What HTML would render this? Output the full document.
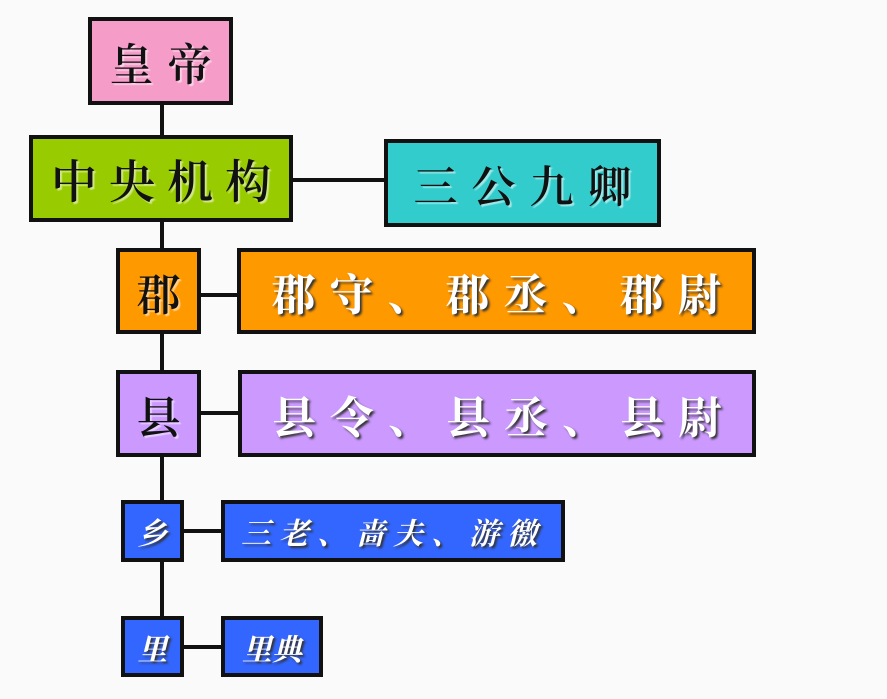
<!DOCTYPE html>
<html><head><meta charset="utf-8"><style>
body{margin:0;width:887px;height:699px;background:#fafafa;position:relative;overflow:hidden;font-family:"Liberation Serif","Noto Serif CJK SC",serif;}
.b{position:absolute;box-sizing:border-box;border:4px solid #111;display:flex;align-items:center;justify-content:center;font-weight:bold;white-space:nowrap;}
.d{color:#111;text-shadow:2px 2px 1px #fff8;font-weight:600;}
.w{color:#fff;text-shadow:2px 2px 2px #333;}
.l{position:absolute;background:#111;}
</style></head><body>
<div class="l" style="left:160px;top:100px;width:4px;height:540px"></div>
<div class="l" style="left:290px;top:178px;width:96px;height:4px"></div>
<div class="l" style="left:198px;top:293px;width:40px;height:4px"></div>
<div class="l" style="left:198px;top:411px;width:40px;height:4px"></div>
<div class="l" style="left:181px;top:529px;width:40px;height:4px"></div>
<div class="l" style="left:181px;top:645px;width:40px;height:4px"></div>

<div class="b d" style="left:88px;top:17px;width:145px;height:88px;background:#f59cc9;font-size:44px;letter-spacing:14px;padding-left:14px">皇帝</div>
<div class="b d" style="left:29px;top:135px;width:264px;height:87px;background:#99cc00;font-size:46px;letter-spacing:12px;padding-left:12px">中央机构</div>
<div class="b d" style="left:384px;top:139px;width:277px;height:88px;background:#33cccc;font-size:44px;letter-spacing:14px;padding-left:14px">三公九卿</div>
<div class="b d" style="left:116px;top:248px;width:85px;height:86px;background:#ff9900;font-size:44px">郡</div>
<div class="b w" style="left:237px;top:248px;width:519px;height:86px;background:#ff9900;font-size:44px;letter-spacing:14px;padding-left:14px">郡守、郡丞、郡尉</div>
<div class="b d" style="left:116px;top:370px;width:85px;height:87px;background:#cc99ff;font-size:44px">县</div>
<div class="b w" style="left:238px;top:370px;width:518px;height:87px;background:#cc99ff;font-size:44px;letter-spacing:14px;padding-left:14px">县令、县丞、县尉</div>
<div class="b w" style="left:121px;top:500px;width:63px;height:62px;background:#3366ff;font-size:30px;font-style:italic">乡</div>
<div class="b w" style="left:221px;top:500px;width:344px;height:62px;background:#3366ff;font-size:30px;font-style:italic;letter-spacing:8px;justify-content:flex-start;padding-left:16px">三老、啬夫、游徼</div>
<div class="b w" style="left:121px;top:616px;width:63px;height:61px;background:#3366ff;font-size:30px;font-style:italic">里</div>
<div class="b w" style="left:221px;top:616px;width:102px;height:61px;background:#3366ff;font-size:30px;font-style:italic">里典</div>
</body></html>
